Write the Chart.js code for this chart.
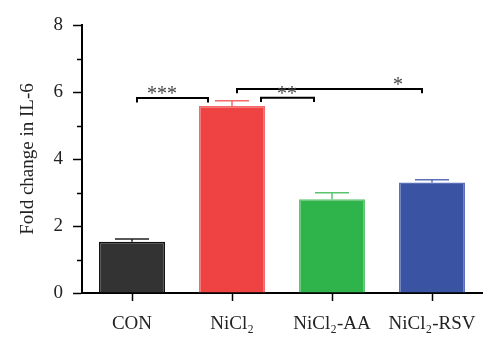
<!DOCTYPE html>
<html>
<head>
<meta charset="utf-8">
<script src="https://cdn.jsdelivr.net/npm/chart.js@4.4.1/dist/chart.umd.min.js"></script>
<style>
  html, body { margin: 0; padding: 0; background: #fff; }
  #wrap { width: 500px; height: 353px; }
</style>
</head>
<body>
<div id="wrap"><canvas id="il6Chart"></canvas></div>
<script>
var groups = ['CON', 'NiCl₂', 'NiCl₂-AA', 'NiCl₂-RSV'];
var foldChange = [1.53, 5.58, 2.80, 3.30];
var errorUp = [0.08, 0.16, 0.19, 0.08];
var yTicks = [0, 2, 4, 6, 8];
var yMinorTicks = [1, 3, 5, 7];
// significance brackets: from/to in category units, y in data units
var sigFrom = [0.05, 1.05, 1.29];
var sigTo = [0.76, 2.90, 1.82];
var sigY = [5.82, 6.09, 5.83];
var sigStar = [0.30, 2.66, 1.55];
var sigLabel = ['***', '*', '**'];

var fillColors = ['#333333', '#EF4343', '#2FB34B', '#3A53A3'];
var edgeColors = ['#111111', '#F46A6A', '#5BC46E', '#5A70B8'];
var serif = "'Liberation Serif', 'DejaVu Serif', serif";

var extrasPlugin = {
    id: 'extras',
    afterDatasetsDraw(chart) {
        const ctx = chart.ctx;
        const x = chart.scales.x, y = chart.scales.y;
        ctx.save();

        // error bars (upper only)
        foldChange.forEach((v, i) => {
            const cx = x.getPixelForValue(i);
            const y0 = y.getPixelForValue(v);
            const y1 = y.getPixelForValue(v + errorUp[i]);
            ctx.strokeStyle = i === 0 ? '#222' : edgeColors[i];
            ctx.lineWidth = 1.5;
            ctx.beginPath();
            ctx.moveTo(cx, y0);
            ctx.lineTo(cx, y1);
            ctx.moveTo(cx - 17, y1);
            ctx.lineTo(cx + 17, y1);
            ctx.stroke();
        });

        // minor y ticks
        ctx.strokeStyle = '#000';
        ctx.lineWidth = 1.5;
        const left = chart.chartArea.left;
        yMinorTicks.forEach(v => {
            const py = Math.round(y.getPixelForValue(v)) + 0.5;
            ctx.beginPath();
            ctx.moveTo(left - 5, py);
            ctx.lineTo(left, py);
            ctx.stroke();
        });

        // significance brackets
        ctx.lineWidth = 2;
        ctx.fillStyle = '#444';
        ctx.font = '20px ' + serif;
        ctx.textAlign = 'center';
        ctx.textBaseline = 'middle';
        sigY.forEach((v, i) => {
            const xa = x.getPixelForValue(sigFrom[i]);
            const xb = x.getPixelForValue(sigTo[i]);
            const py = y.getPixelForValue(v);
            const drop = y.getPixelForValue(v - 0.13) - py;
            ctx.beginPath();
            ctx.moveTo(xa, py + drop);
            ctx.lineTo(xa, py);
            ctx.lineTo(xb, py);
            ctx.lineTo(xb, py + drop);
            ctx.stroke();
            ctx.fillText(sigLabel[i], x.getPixelForValue(sigStar[i]), py - 3);
        });
        ctx.restore();
    }
};

new Chart(document.getElementById('il6Chart').getContext('2d'), {
    type: 'bar',
    data: {
        labels: groups,
        datasets: [{
            data: foldChange,
            backgroundColor: fillColors,
            borderColor: edgeColors,
            borderWidth: 1.5,
            borderSkipped: 'bottom',
            barPercentage: 0.66,
            categoryPercentage: 1.0
        }]
    },
    options: {
        responsive: true,
        maintainAspectRatio: false,
        animation: false,
        layout: { padding: { top: 25, right: 18, left: 0, bottom: 0 } },
        plugins: {
            legend: { display: false },
            tooltip: { enabled: false }
        },
        scales: {
            x: {
                offset: true,
                grid: { display: true, drawOnChartArea: false, offset: false, tickLength: 8, tickColor: '#000', tickWidth: 1.5 },
                border: { display: true, color: '#000', width: 2 },
                ticks: { color: '#222', padding: 12, font: { family: serif, size: 19 } },
                afterFit(scale) { scale.height = 60; }
            },
            y: {
                min: 0,
                max: 8,
                afterBuildTicks(scale) { scale.ticks = yTicks.map(v => ({ value: v })); },
                grid: { display: true, drawOnChartArea: false, tickLength: 9, tickColor: '#000', tickWidth: 1.5 },
                border: { display: true, color: '#000', width: 2 },
                ticks: { color: '#222', padding: 10, font: { family: serif, size: 19 } },
                title: {
                    display: true,
                    text: 'Fold change in IL-6',
                    color: '#222',
                    padding: { top: 17, bottom: 0 },
                    font: { family: serif, size: 19 }
                },
                afterFit(scale) { scale.width = 82; }
            }
        }
    },
    plugins: [extrasPlugin]
});
</script>
</body>
</html>
